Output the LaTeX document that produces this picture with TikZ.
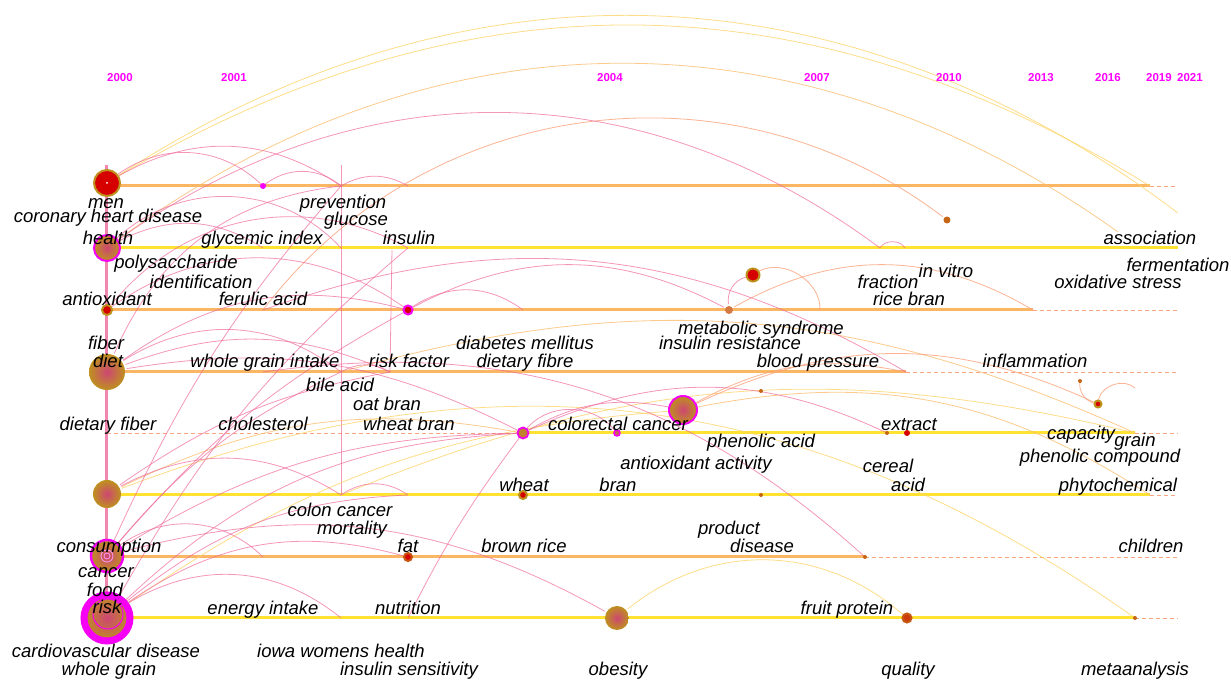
\documentclass[tikz,border=0pt]{standalone}
\usepackage{fontspec}
\setmainfont{Liberation Sans}
\usetikzlibrary{positioning,backgrounds}

\definecolor{tlorange}{RGB}{250,182,98}
\definecolor{tlyellow}{RGB}{255,226,50}
\definecolor{tldash}{RGB}{250,165,130}
\definecolor{yrmag}{RGB}{255,0,255}
\definecolor{ochre}{RGB}{190,145,30}
\definecolor{hubcore}{RGB}{205,70,115}
\definecolor{nodered}{RGB}{215,0,0}
\definecolor{arcpink}{RGB}{238,105,155}
\definecolor{arcorange}{RGB}{250,160,120}
\definecolor{arcyellow}{RGB}{252,212,105}
\definecolor{ringmag}{RGB}{245,0,245}

% one unit = one pixel of the view, scaled to 0.1pt
\newcommand{\kwfont}{\fontsize{1.85}{2}\selectfont\itshape}
\newcommand{\yrfont}{\fontsize{1.15}{1.3}\selectfont\bfseries}

\tikzset{
  kw/.style={font=\kwfont, anchor=base, inner sep=0pt},
  yr/.style={font=\yrfont, text=yrmag, anchor=base, inner sep=0pt},
  tlo/.style={draw=tlorange, line width=.3pt},
  tly/.style={draw=tlyellow, line width=.3pt},
  tld/.style={draw=tldash, line width=.09pt, dash pattern=on .4pt off .3pt},
  pk/.style={draw=arcpink, draw opacity=.7, line width=.08pt},
  og/.style={draw=arcorange, draw opacity=.8, line width=.08pt},
  yo/.style={draw=arcyellow!55!arcorange, draw opacity=.8, line width=.08pt},
  yw/.style={draw=arcyellow, draw opacity=.8, line width=.08pt},
  hub/.style={circle, inner sep=0pt, minimum size=#1, inner color=hubcore, outer color=ochre},
  redhub/.style={circle, inner sep=0pt, minimum size=#1, fill=nodered, draw=ochre, line width=.2pt},
  speck/.style={circle, inner sep=0pt, minimum size=#1, fill=ochre!70!nodered},
  magring/.style={draw=ringmag, line width=#1}
}

\begin{document}
\begin{tikzpicture}[x=.1pt,y=-.1pt]
\useasboundingbox (0,0) rectangle (1231,681);

% years
\foreach \yx/\yl in {120/2000,234/2001,610/2004,817/2007,949/2010,1041/2013,1108/2016,1159/2019,1190/2021}
  \node[yr] (yr\yl) at (\yx,82) {\yl};

% keyword positions on the timelines
\foreach \n/\px/\py in {m1/263/186,m2/341/186,m3/408/186,m4/1150/186,
  h1/263/248,h2/341/248,h3/408/248,h4/880/248,h5/905/248,
  a1/263/310,a3/523/310,a5/1033/310,a6/820/310,
  d1/263/372,d2/341/372,d3/390/372,d4/617/372,d5/906/372,
  f1/263/433,f4/887/433,f6/1135/433,
  r1/341/495,r2/408/495,r4/761/495,r5/1150/495,
  c1/263/557,c3/865/557,
  k1/341/618,k2/408/618,k5/1135/618,
  u5/1080/381,u6/761/391,u7/1135/388,e1/1178/213,e2/1118/232,
  v0/107/165,v1/107/640,s0/341/165,s1/392/250}
  \coordinate (\n) at (\px,\py);

% keyword nodes
\node[redhub=2.6pt] (m0) at (107,183) {};
\fill[white] (m0.center) circle (.1pt);
\node[circle, fill=ringmag, inner sep=0pt, minimum size=.6pt] (m1n) at (m1) {};
\node[hub=2.6pt, magring=.2pt] (h0) at (107,248) {};
\node[redhub=1pt] (a0) at (107,310) {};
\node[hub=3.6pt] (d0) at (107,372) {};
\node[hub=2.8pt] (r0) at (107,494) {};
\node[hub=3.2pt, magring=.25pt] (c0) at (107,556) {};
\draw[white!60!ringmag, line width=.08pt] (c0.center) circle (.3pt) (c0.center) circle (.6pt);
\node[hub=4.6pt, magring=.7pt] (k0) at (107,618) {};
\draw[ringmag, line width=.1pt] (108,614) circle (1.5pt);
\node[redhub=.9pt, draw=ringmag] (a2) at (408,310) {};
\node[redhub=1.3pt] (u1) at (753,275) {};
\node[speck=.8pt, fill=ochre!60!nodered!80] (a4) at (729,310) {};
\node[speck=.7pt] (u3) at (947,220) {};
\node[hub=2.8pt, magring=.2pt] (u2) at (683,410) {};
\node[speck=1.1pt, fill=ochre!80!hubcore, draw=ringmag, line width=.18pt] (f2) at (523,433) {};
\node[circle, draw=ringmag, fill=ochre!50!hubcore, line width=.15pt, inner sep=0pt, minimum size=.6pt] (f3) at (617,433) {};
\node[speck=.4pt] at (f4) {};
\node[circle, fill=nodered, inner sep=0pt, minimum size=.6pt] (f5) at (907,433) {};
\node[redhub=.7pt] (u4) at (1098,404) {};
\node[speck=.4pt] at (u5) {};
\node[speck=.4pt] at (u6) {};
\node[redhub=.8pt] (r3) at (523,495) {};
\node[speck=.4pt] at (r4) {};
\node[redhub=.8pt, draw=ochre!60!nodered] (c2) at (408,557) {};
\node[speck=.4pt] at (c3) {};
\node[hub=2.4pt] (k3) at (617,618) {};
\node[redhub=.9pt, draw=ochre!60!nodered, fill=nodered!60!ochre] (k4) at (907,618) {};
\node[speck=.4pt] at (k5) {};

\begin{pgfonlayer}{background}
% timelines
\draw[tlo] (107,186) -- (1150,186);  \draw[tld] (1150,186) -- (1178,186);
\draw[tly] (107,248) -- (1178,248);
\draw[tlo] (107,310) -- (1033,310);  \draw[tld] (1033,310) -- (1178,310);
\draw[tlo] (107,372) -- (906,372);   \draw[tld] (906,372) -- (1178,372);
\draw[tld] (107,433) -- (523,433);   \draw[tly] (523,433) -- (1135,433); \draw[tld] (1135,433) -- (1178,433);
\draw[tly] (107,495) -- (1150,495);  \draw[tld] (1150,495) -- (1178,495);
\draw[tlo] (107,557) -- (865,557);   \draw[tld] (865,557) -- (1178,557);
\draw[tly] (107,618) -- (1135,618);  \draw[tld] (1135,618) -- (1178,618);

% vertical strands
\draw[pk, line width=.3pt, draw opacity=.8] (v0) -- (v1);
\draw[pk] (s0) -- (r1);
\draw[pk] (s1) -- (d3);

% co-occurrence arcs
\foreach \s/\t/\b in {m0/e1/35,m0/m4/31}
  \draw[yw] (\s) to[bend left=\b] (\t);
\foreach \s/\t/\b in {h0/e2/36,r0/f2/18,u2/r5/22,d2/f6/20}
  \draw[yo] (\s) to[bend left=\b] (\t);
\foreach \s/\t/\b in {r0/k5/28,k0/u2/15,r1/f6/18,k3/k4/40}
  \draw[yw] (\s) to[bend left=\b] (\t);
\foreach \s/\t/\b in {a1/u3/45,a4/a5/30,u1/a6/60,u2/u4/25,u2/d5/20,u4/u5/40,u4/u7/60}
  \draw[og] (\s) to[bend left=\b] (\t);
\foreach \s/\t/\b in {h0/h4/36,m0/m1/40,m0/m2/32,m1/m2/40,m2/m3/30,h0/h2/45,h0/h1/30,
  a0/h3/40,a0/a2/35,d0/d2/35,d0/m2/30,d0/a2/25,d0/d3/22,d0/f2/18,r0/r1/30,r0/d3/12,
  c0/c1/40,c0/a2/10,c0/f2/15,c0/k3/22,c0/d2/12,c0/m2/8,k0/k1/35,k0/c2/25,k0/f2/20,
  k0/r2/18,k0/h3/10,k2/f2/5,a2/a3/35,a2/a4/28,a4/u1/40,f2/f3/50,f2/u2/20,f2/f4/25,
  d1/c3/25,r1/r2/35,h4/h5/60,d2/d3/30,a1/d5/25}
  \draw[pk] (\s) to[bend left=\b] (\t);
\end{pgfonlayer}

% labels
\foreach \lx/\ly/\lt in {106/208/men,108/223/coronary heart disease,108/245/health,
  176/269/polysaccharide,201/288/identification,107/306/antioxidant,
  343/208/prevention,356/226/glucose,262/245/glycemic index,409/245/insulin,
  263/306/ferulic acid,1150/245/association,1178/271/fermentation,946/278/in vitro,
  888/288/fraction,1118/288/oxidative stress,909/306/rice bran,
  761/334/metabolic syndrome,730/350/insulin resistance,525/350/diabetes mellitus,
  525/368/dietary fibre,106/350/fiber,108/367/diet,265/368/whole grain intake,
  409/368/risk factor,818/368/blood pressure,1035/368/inflammation,
  340/392/bile acid,387/411/oat bran,108/430/dietary fiber,263/430/cholesterol,
  409/430/wheat bran,618/430/colorectal cancer,909/430/extract,1081/440/capacity,
  1135/447/grain,761/448/phenolic acid,1100/463/phenolic compound,
  696/470/antioxidant activity,888/473/cereal,908/492/acid,524/492/wheat,
  618/492/bran,1118/492/phytochemical,340/517/colon cancer,352/535/mortality,
  729/535/product,762/553/disease,109/553/consumption,408/553/fat,
  524/553/brown rice,1151/553/children,106/578/cancer,105/597/food,107/614/risk,
  263/615/energy intake,408/615/nutrition,847/615/fruit protein,
  106/658/cardiovascular disease,109/676/whole grain,341/658/iowa womens health,
  409/676/insulin sensitivity,618/676/obesity,908/676/quality,1135/676/metaanalysis}
  \node[kw] at (\lx,\ly) {\lt};
\end{tikzpicture}
\end{document}
